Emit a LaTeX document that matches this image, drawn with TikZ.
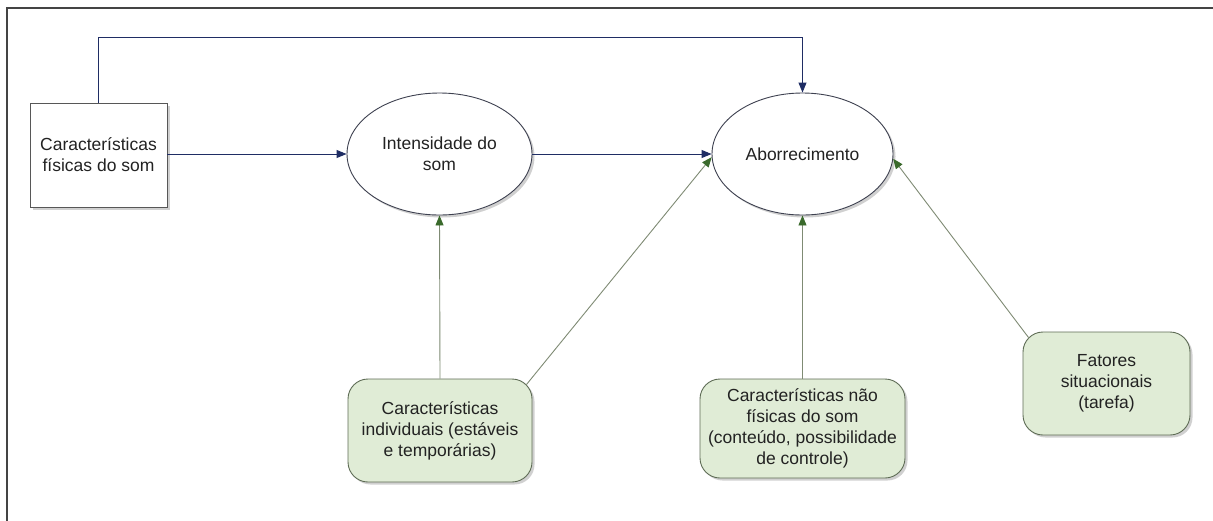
\documentclass[tikz,border=0pt]{standalone}
\usepackage{fontspec}
\setmainfont{Liberation Sans}
\usetikzlibrary{shapes.geometric,arrows.meta,shadows}
\definecolor{navyline}{HTML}{1F2D64}
\definecolor{greenline}{HTML}{7F8B74}
\definecolor{greenhead}{HTML}{3A6A2C}
\definecolor{boxfill}{HTML}{E0ECD6}
\definecolor{boxborder}{HTML}{5E6C55}
\definecolor{ellborder}{HTML}{3E4150}
\definecolor{txt}{HTML}{222222}
\definecolor{framecol}{HTML}{444444}
\tikzset{
  every node/.style={font=\fontsize{17.5}{21}\selectfont, text=txt, align=center, inner sep=0pt},
  myshadow/.style={drop shadow={shadow xshift=2.5pt, shadow yshift=-2.5pt, opacity=0.3, fill=black!60}},
  rectbox/.style={draw=framecol!90, line width=0.9pt, fill=white, rectangle, myshadow},
  ellbox/.style={draw=ellborder, line width=0.9pt, fill=white, ellipse, myshadow},
  greenbox/.style={draw=boxborder, line width=0.9pt, fill=boxfill, rectangle, rounded corners=20pt, myshadow},
  navyarrow/.style={draw=navyline, line width=0.9pt, -{Triangle[length=10pt,width=8pt,fill=navyline,color=navyline]}},
  greenarrow/.style={draw=greenline, line width=0.9pt, -{Triangle[length=10pt,width=8pt,fill=greenhead,color=greenhead]}},
}
\begin{document}
\begin{tikzpicture}[x=1pt,y=-1pt]
\useasboundingbox (0,0) rectangle (1213,520);
\fill[white] (0,0) rectangle (1213,520);
\draw[framecol, line width=1.3pt] (7,522) -- (7,8) -- (1215,8);

\node[rectbox, minimum width=137pt, minimum height=104pt] (cf) at (98.5,155) {Características\\físicas do som};
\node[ellbox, minimum width=185pt, minimum height=122pt] (int) at (439.5,154) {Intensidade do\\som};
\node[ellbox, minimum width=181pt, minimum height=122pt] (ab) at (802.5,154) {Aborrecimento};
\node[greenbox, minimum width=184pt, minimum height=103pt] (ind) at (440,430.5) {Características\\individuais (estáveis\\e temporárias)};
\node[greenbox, minimum width=205pt, minimum height=99pt] (nf) at (802.5,428.5) {Características não\\físicas do som\\(conteúdo, possibilidade\\de controle)};
\node[greenbox, minimum width=167pt, minimum height=103pt] (fat) at (1106.5,383.5) {Fatores\\situacionais\\(tarefa)};

\coordinate (topy) at (0,37);
\draw[navyarrow] (cf.north) |- (topy -| ab.north) -- (ab.north);
\draw[navyarrow] (cf.east |- int.west) -- (int.west);
\draw[navyarrow] (int.east) -- (ab.west);

\draw[greenarrow] (ind.north) -- (int.south);
\draw[greenarrow] ([shift={(-6,6)}]ind.north east) -- (ab.182.5);
\draw[greenarrow] (nf.north) -- (ab.south);
\draw[greenarrow] ([shift={(6,6)}]fat.north west) -- (ab.-3);
\end{tikzpicture}
\end{document}
